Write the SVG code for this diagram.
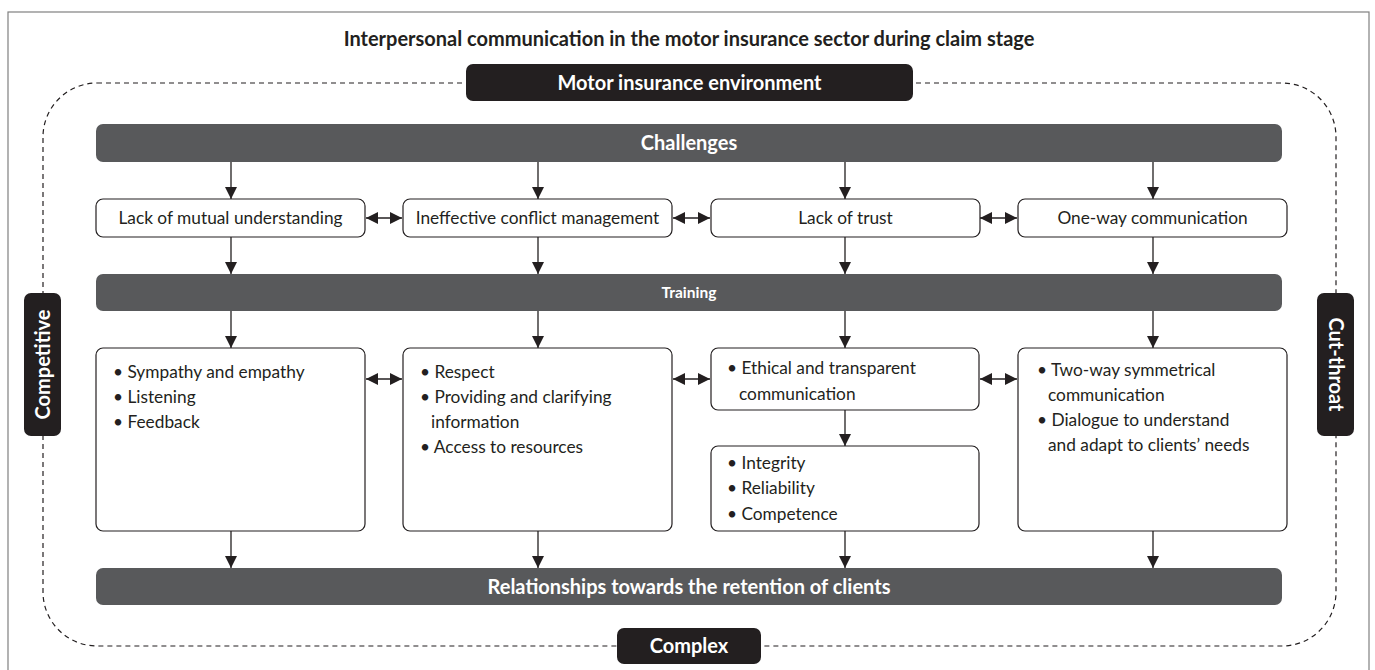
<svg xmlns="http://www.w3.org/2000/svg" width="1375" height="670" viewBox="0 0 1375 670">
  <defs>
    <style>
      .frame { fill: #ffffff; stroke: #808080; stroke-width: 1.2; }
      .env { fill: none; stroke: #231f20; stroke-width: 1.2; stroke-dasharray: 5 4; }
      .dark { fill: #231f20; }
      .bar { fill: #58595b; }
      .box { fill: #ffffff; stroke: #231f20; stroke-width: 1.2; }
      .conn { stroke: #231f20; stroke-width: 1.3; fill: none; }
      text { font-family: Lato, "Open Sans", "Liberation Sans", sans-serif; }
      .title { font-size: 20px; font-weight: bold; fill: #231f20; text-anchor: middle; }
      .wlabel { font-size: 20px; font-weight: bold; fill: #ffffff; text-anchor: middle; }
      .wsmall { font-size: 15.5px; font-weight: bold; fill: #ffffff; text-anchor: middle; }
      .clabel { font-size: 17.3px; fill: #231f20; text-anchor: middle; }
      .item { font-size: 17.3px; fill: #231f20; }
    </style>
    <marker id="head" viewBox="0 0 12 12" refX="12" refY="6" markerWidth="12" markerHeight="12" markerUnits="userSpaceOnUse" orient="auto-start-reverse">
      <path d="M0,0 L12,6 L0,12 Z" fill="#231f20"/>
    </marker>
  </defs>

  <!-- outer frame and title -->
  <rect class="frame" x="8" y="12" width="1361" height="670"/>
  <text class="title" x="689" y="46">Interpersonal communication in the motor insurance sector during claim stage</text>

  <!-- dashed environment outline -->
  <rect class="env" x="43" y="83" width="1293" height="563" rx="54" ry="54"/>

  <g id="env-label">
    <rect class="dark" x="466" y="64" width="447" height="37" rx="7"/>
    <text class="wlabel" x="689.5" y="89.5">Motor insurance environment</text>
  </g>
  <g id="competitive">
    <rect class="dark" x="24" y="293" width="37" height="143" rx="7"/>
    <text class="wlabel" transform="translate(49.5 364.5) rotate(-90)">Competitive</text>
  </g>
  <g id="cut-throat">
    <rect class="dark" x="1317" y="293" width="37" height="143" rx="7"/>
    <text class="wlabel" transform="translate(1328.5 364.5) rotate(90)">Cut-throat</text>
  </g>
  <g id="complex">
    <rect class="dark" x="617" y="628" width="144" height="36" rx="7"/>
    <text class="wlabel" x="689" y="653">Complex</text>
  </g>

  <!-- connectors -->
  <g id="connectors">
    <line class="conn" x1="231" y1="162" x2="231" y2="199" marker-end="url(#head)"/>
    <line class="conn" x1="538" y1="162" x2="538" y2="199" marker-end="url(#head)"/>
    <line class="conn" x1="845" y1="162" x2="845" y2="199" marker-end="url(#head)"/>
    <line class="conn" x1="1153" y1="162" x2="1153" y2="199" marker-end="url(#head)"/>

    <line class="conn" x1="366" y1="218" x2="402" y2="218" marker-start="url(#head)" marker-end="url(#head)"/>
    <line class="conn" x1="673" y1="218" x2="710" y2="218" marker-start="url(#head)" marker-end="url(#head)"/>
    <line class="conn" x1="980" y1="218" x2="1017" y2="218" marker-start="url(#head)" marker-end="url(#head)"/>

    <line class="conn" x1="231" y1="237" x2="231" y2="274" marker-end="url(#head)"/>
    <line class="conn" x1="538" y1="237" x2="538" y2="274" marker-end="url(#head)"/>
    <line class="conn" x1="845" y1="237" x2="845" y2="274" marker-end="url(#head)"/>
    <line class="conn" x1="1153" y1="237" x2="1153" y2="274" marker-end="url(#head)"/>

    <line class="conn" x1="231" y1="311" x2="231" y2="348" marker-end="url(#head)"/>
    <line class="conn" x1="538" y1="311" x2="538" y2="348" marker-end="url(#head)"/>
    <line class="conn" x1="845" y1="311" x2="845" y2="348" marker-end="url(#head)"/>
    <line class="conn" x1="1153" y1="311" x2="1153" y2="348" marker-end="url(#head)"/>

    <line class="conn" x1="366" y1="379" x2="402" y2="379" marker-start="url(#head)" marker-end="url(#head)"/>
    <line class="conn" x1="673" y1="379" x2="710" y2="379" marker-start="url(#head)" marker-end="url(#head)"/>
    <line class="conn" x1="980" y1="379" x2="1017" y2="379" marker-start="url(#head)" marker-end="url(#head)"/>

    <line class="conn" x1="845" y1="410" x2="845" y2="446" marker-end="url(#head)"/>

    <line class="conn" x1="231" y1="531" x2="231" y2="568" marker-end="url(#head)"/>
    <line class="conn" x1="538" y1="531" x2="538" y2="568" marker-end="url(#head)"/>
    <line class="conn" x1="845" y1="531" x2="845" y2="568" marker-end="url(#head)"/>
    <line class="conn" x1="1153" y1="531" x2="1153" y2="568" marker-end="url(#head)"/>
  </g>

  <!-- bars -->
  <g id="challenges">
    <rect class="bar" x="96" y="124" width="1186" height="38" rx="7"/>
    <text class="wlabel" x="689" y="150">Challenges</text>
  </g>
  <g id="training">
    <rect class="bar" x="96" y="274" width="1186" height="37" rx="7"/>
    <text class="wsmall" x="689" y="298">Training</text>
  </g>
  <g id="relationships">
    <rect class="bar" x="96" y="568" width="1186" height="37" rx="7"/>
    <text class="wlabel" x="689" y="593.5">Relationships towards the retention of clients</text>
  </g>

  <!-- challenge boxes -->
  <g id="c-mutual">
    <rect class="box" x="96" y="199" width="269" height="38" rx="7"/>
    <text class="clabel" x="230.5" y="224">Lack of mutual understanding</text>
  </g>
  <g id="c-conflict">
    <rect class="box" x="403" y="199" width="269" height="38" rx="7"/>
    <text class="clabel" x="537.5" y="224">Ineffective conflict management</text>
  </g>
  <g id="c-trust">
    <rect class="box" x="711" y="199" width="269" height="38" rx="7"/>
    <text class="clabel" x="845.5" y="224">Lack of trust</text>
  </g>
  <g id="c-oneway">
    <rect class="box" x="1018" y="199" width="269" height="38" rx="7"/>
    <text class="clabel" x="1152.5" y="224">One-way communication</text>
  </g>

  <!-- training outcome boxes -->
  <g id="t-empathy">
    <rect class="box" x="96" y="348" width="269" height="183" rx="7"/>
    <text class="item" x="113" y="378">• Sympathy and empathy</text>
    <text class="item" x="113" y="403">• Listening</text>
    <text class="item" x="113" y="428">• Feedback</text>
  </g>
  <g id="t-respect">
    <rect class="box" x="403" y="348" width="269" height="183" rx="7"/>
    <text class="item" x="420" y="378">• Respect</text>
    <text class="item" x="420" y="403">• Providing and clarifying</text>
    <text class="item" x="431" y="428">information</text>
    <text class="item" x="420" y="453">• Access to resources</text>
  </g>
  <g id="t-ethical">
    <rect class="box" x="711" y="348" width="268" height="62" rx="7"/>
    <text class="item" x="727" y="374">• Ethical and transparent</text>
    <text class="item" x="739" y="400">communication</text>
  </g>
  <g id="t-integrity">
    <rect class="box" x="711" y="446" width="268" height="85" rx="7"/>
    <text class="item" x="727" y="469">• Integrity</text>
    <text class="item" x="727" y="494">• Reliability</text>
    <text class="item" x="727" y="520">• Competence</text>
  </g>
  <g id="t-twoway">
    <rect class="box" x="1018" y="348" width="269" height="183" rx="7"/>
    <text class="item" x="1037" y="376">• Two-way symmetrical</text>
    <text class="item" x="1048" y="401">communication</text>
    <text class="item" x="1037" y="426">• Dialogue to understand</text>
    <text class="item" x="1048" y="451">and adapt to clients’ needs</text>
  </g>
</svg>
